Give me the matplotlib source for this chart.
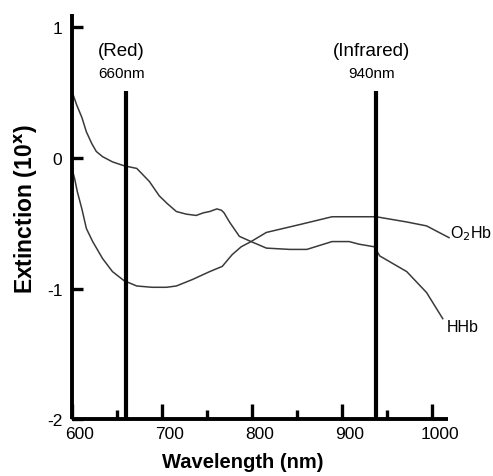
import numpy as np
import matplotlib
matplotlib.use("Agg")
import matplotlib.pyplot as plt
import matplotlib.transforms as mtransforms

plt.rcParams['font.family'] = ['Liberation Sans Narrow', 'Liberation Sans', 'DejaVu Sans']
plt.rcParams['axes.unicode_minus'] = False

# HHb (deoxyhaemoglobin) curve, log10 extinction
hhb_wl = [600, 605, 611, 616, 622, 627, 634, 645, 658, 672, 686, 697, 706, 716,
          727, 738, 746, 753, 761, 766, 769, 775, 786, 799, 816, 842, 861, 875,
          889, 908, 919, 936, 942, 972, 994, 1012]
hhb_ext = [0.51, 0.41, 0.31, 0.20, 0.11, 0.05, 0.01, -0.03, -0.06, -0.08, -0.18,
           -0.29, -0.35, -0.41, -0.43, -0.44, -0.42, -0.41, -0.39, -0.40, -0.42,
           -0.49, -0.60, -0.64, -0.69, -0.70, -0.70, -0.67, -0.64, -0.64, -0.66,
           -0.68, -0.75, -0.87, -1.03, -1.23]

# O2Hb (oxyhaemoglobin) curve
o2hb_wl = [600, 603, 606, 611, 616, 623, 634, 645, 658, 672, 689, 705, 716, 734,
           753, 767, 778, 788, 799, 816, 853, 889, 919, 938, 972, 994, 1019]
o2hb_ext = [-0.08, -0.16, -0.26, -0.39, -0.54, -0.64, -0.77, -0.87, -0.94, -0.98,
            -0.99, -0.99, -0.98, -0.93, -0.87, -0.83, -0.74, -0.68, -0.64, -0.57,
            -0.51, -0.45, -0.45, -0.45, -0.49, -0.52, -0.61]

led_wl = [660, 938]
led_name = ["(Red)", "(Infrared)"]
led_label = ["660nm", "940nm"]

x_major = [600, 700, 800, 900, 1000]
x_minor = [650, 750, 850, 950]
y_major = [-2, -1, 0, 1]

fig = plt.figure(figsize=(4.93, 4.77), dpi=100)
ax = fig.add_axes([0.146, 0.119, 0.763, 0.849])

curve_col = "#3a3a3a"
ax.plot(hhb_wl, hhb_ext, color=curve_col, lw=1.1, clip_on=False)
ax.plot(o2hb_wl, o2hb_ext, color=curve_col, lw=1.1, clip_on=False)

for wl in led_wl:
    ax.plot([wl, wl], [-2, 0.51], color="black", lw=3.0, solid_capstyle="butt")

ax.set_xlim(600, 1018)
ax.set_ylim(-2, 1.1)

for s in ["top", "right"]:
    ax.spines[s].set_visible(False)
for s in ["left", "bottom"]:
    ax.spines[s].set_linewidth(2.8)
    ax.spines[s].set_capstyle("butt")

ax.set_xticks(x_major)
ax.set_xticks(x_minor, minor=True)
ax.set_yticks(y_major)
ax.tick_params(axis="x", which="major", direction="in", length=11, width=2.4,
               labelsize=12.5, pad=5)
ax.tick_params(axis="x", which="minor", direction="in", length=6.5, width=2.4)
ax.tick_params(axis="y", which="major", direction="in", length=8, width=2.4,
               labelsize=12.5, pad=7)

offset = mtransforms.ScaledTranslation(8 / 100, 0, fig.dpi_scale_trans)
for lbl in ax.get_xticklabels():
    lbl.set_transform(lbl.get_transform() + offset)

ax.set_xlabel("Wavelength (nm)", fontsize=14.5, fontweight="bold",
              family=["Liberation Sans", "DejaVu Sans"])
ax.xaxis.set_label_coords(0.455, -0.082)
ax.set_ylabel("Extinction (10$^\\mathbf{x}$)", fontsize=16.5, fontweight="bold",
              family=["Liberation Sans", "DejaVu Sans"])
ax.yaxis.set_label_coords(-0.085, 0.52)

for wl, name, lab in zip(led_wl, led_name, led_label):
    ax.text(wl - 5, 0.82, name, ha="center", va="center", fontsize=13.5)
    ax.text(wl - 5, 0.65, lab, ha="center", va="center", fontsize=11)

ax.text(1020, -0.57, "O$_2$Hb", ha="left", va="center", fontsize=11.5, clip_on=False)
ax.text(1017, -1.29, "HHb", ha="left", va="center", fontsize=11.5, clip_on=False)

fig.savefig("out.png", dpi=100)
